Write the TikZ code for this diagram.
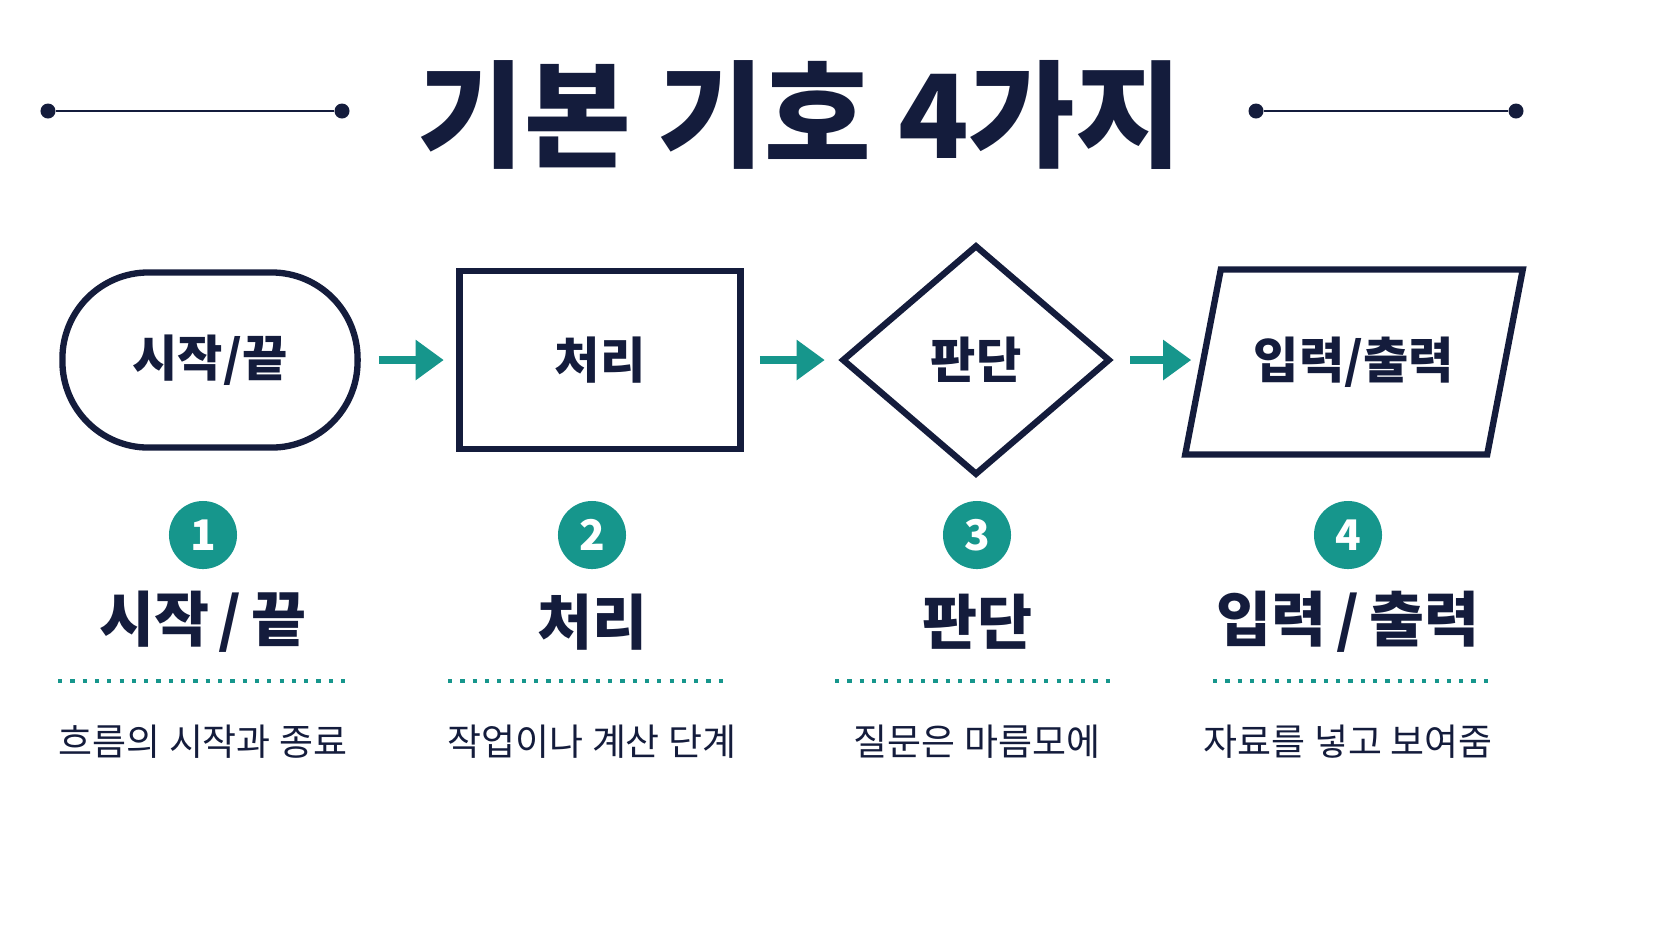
\documentclass[tikz,border=0pt]{standalone}
\usepackage{fontspec}
\setmainfont{Noto Sans CJK KR}
\usetikzlibrary{shapes.geometric,arrows.meta,positioning}
\definecolor{navy}{HTML}{141C3C}
\definecolor{teal}{HTML}{16968C}
\tikzset
{
    shapeline/.style = {draw=navy, line width=1.8pt},
    flowarrow/.style = {teal, line width=2.2pt, -{Triangle[length=8pt,width=11pt]}},
    numdot/.style    = {circle, fill=teal, text=white, minimum size=0.68cm, inner sep=0pt, font=\bfseries\fontsize{12}{12}\selectfont},
    caption/.style   = {text=navy, font=\bfseries\fontsize{17}{17}\selectfont},
    desc/.style      = {text=navy, font=\fontsize{10.5}{10.5}\selectfont},
    inlabel/.style   = {text=navy, font=\bfseries\fontsize{14}{14}\selectfont},
    divider/.style   = {teal, line width=1.2pt, dash pattern=on 1.2pt off 2.3pt},
    endline/.style   = {navy, line width=0.8pt},
    enddot/.style    = {circle, fill=navy, inner sep=0pt, minimum size=0.15cm}
}
\begin{document}
\begin{tikzpicture}[x=0.01cm, y=-0.01cm]
	\useasboundingbox[fill=white] (0,0) rectangle (1672,941);
	\node (title) [text=navy, font=\bfseries\fontsize{33}{33}\selectfont] at (800,115) {기본 기호 4가지};
	% side lines
	\node (l1) [enddot] at (48,111) {};
	\node (l2) [enddot] at (342,111) {};
	\node (r1) [enddot] at (1256,111) {};
	\node (r2) [enddot] at (1516,111) {};
	\draw [endline] (l1) -- (l2);
	\draw [endline] (r1) -- (r2);

	% the four shapes
	\node (start) [shapeline, rounded corners=0.86cm, minimum width=2.95cm, minimum height=1.75cm, inlabel] at (210,360) {시작/끝};
	\node (proc) [shapeline, minimum width=2.81cm, minimum height=1.78cm, inlabel] at (600,360) {처리};
	\node (dec) [shapeline, diamond, minimum width=2.68cm, minimum height=2.3cm, inner sep=0pt, inlabel] at (976,360) {판단};
	\node (io) [shapeline, trapezium, trapezium stretches=true, trapezium left angle=68, trapezium right angle=112, minimum width=3.38cm, minimum height=1.85cm, inlabel] at (1354,362) {입력/출력};
	\draw [flowarrow] (start.east) ++(18,0) -- ++(65,0);
	\draw [flowarrow] (proc.east) ++(16,0) -- ++(65,0);
	\draw [flowarrow] (dec.east) ++(17,0) -- ++(61,0);

	% numbered captions
	\foreach \n/\x/\name/\txt/\dl/\dr in {1/203/{시작\,/\,끝}/{흐름의 시작과 종료}/58/345,
	                                    2/592/{처리}/{작업이나 계산 단계}/448/726,
	                                    3/977/{판단}/{질문은 마름모에}/835/1112,
	                                    4/1348/{입력\,/\,출력}/{자료를 넣고 보여줌}/1213/1490}
	{
		\node (num\n) [numdot] at (\x,535) {\n};
		\node (cap\n) [caption] at (\x,622) {\name};
		\draw [divider] (\dl,681) -- (\dr,681);
		\node (desc\n) [desc] at (\x,742) {\txt};
	}
\end{tikzpicture}
\end{document}
